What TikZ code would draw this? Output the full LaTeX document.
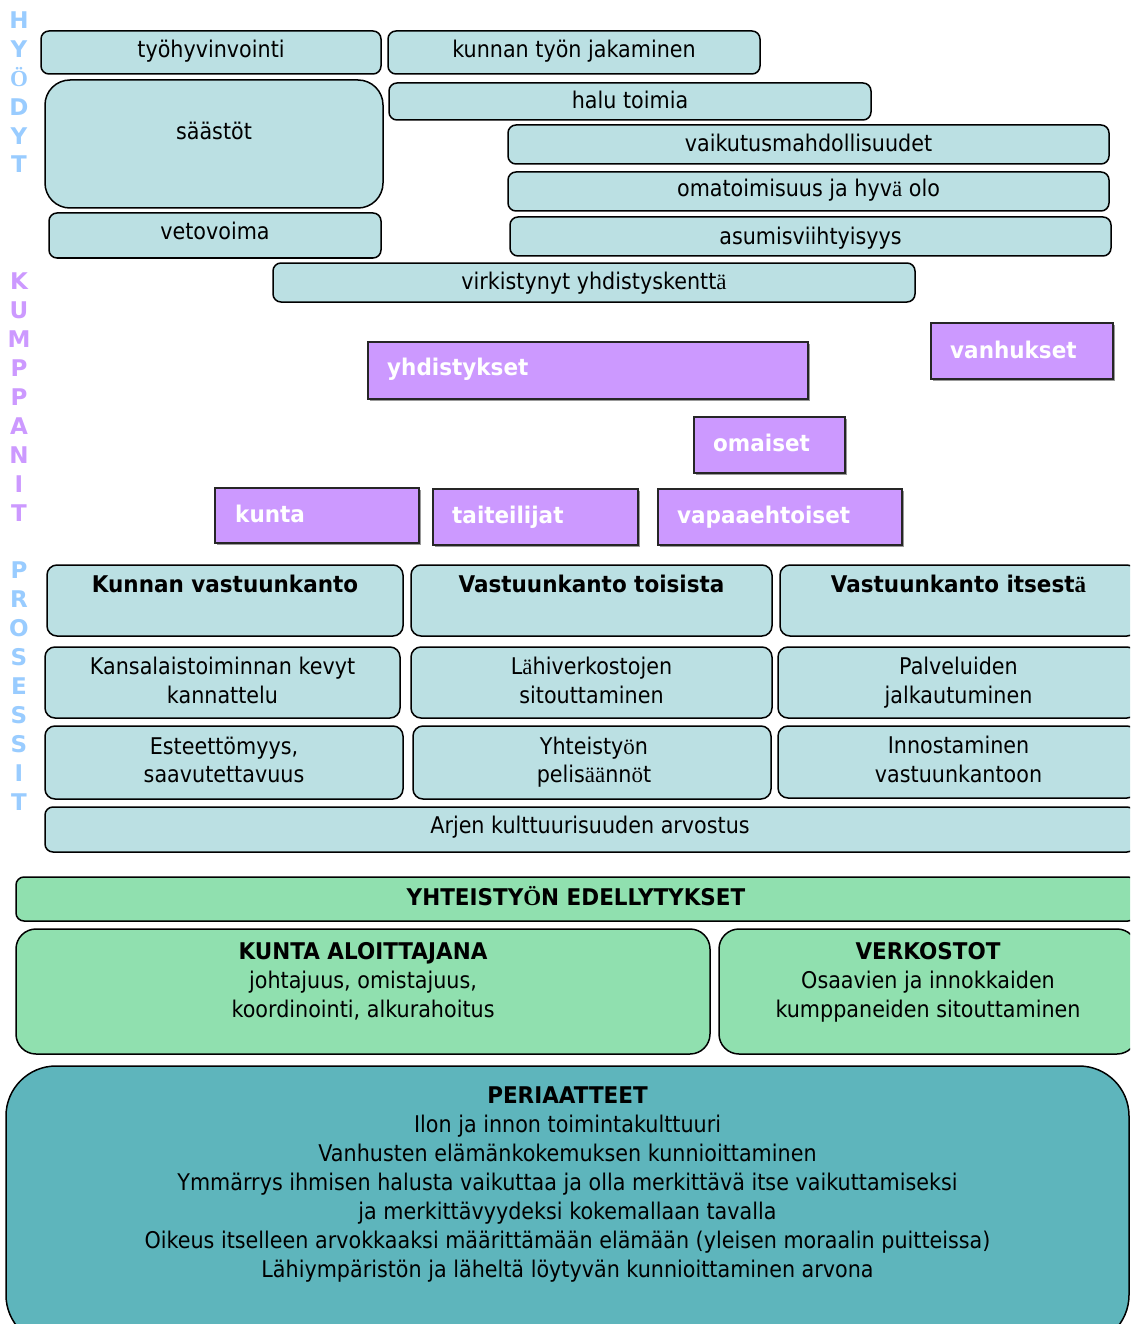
\documentclass[tikz,border=0pt]{standalone}
\usepackage{fontspec}
\setmainfont[UprightFeatures={FakeStretch=0.9},BoldFeatures={FakeStretch=0.935}]{DejaVu Sans}
\newfontfamily\fb{Liberation Serif}
\newfontfamily\sidefont{DejaVu Sans}
\usetikzlibrary{fit,shadows}

\definecolor{lblue}{RGB}{187,224,227}
\definecolor{purp}{RGB}{204,153,255}
\definecolor{sideblue}{RGB}{153,204,255}
\definecolor{lgreen}{RGB}{144,224,175}
\definecolor{teal}{RGB}{94,181,188}

\tikzset{
  x=1pt, y=-1pt,
  boxbase/.style={draw=black, line width=1.5pt, inner sep=0pt, outer sep=0pt},
  bbox/.style={boxbase, fill=lblue, rounded corners=8pt},
  gbox/.style={boxbase, fill=lgreen, rounded corners=8pt},
  pbox/.style={draw=black!85, line width=1.2pt, fill=purp, inner sep=0pt,
    general shadow={fill=black!40, shadow xshift=1.6pt, shadow yshift=-1.6pt}},
  txt/.style={inner sep=0pt, anchor=base, font=\fontsize{23}{29}\selectfont},
  btxt/.style={txt, font=\fontsize{23}{29}\selectfont\bfseries},
  ptxt/.style={inner sep=0pt, anchor=base west, text=white,
    font=\fontsize{23}{29}\selectfont\bfseries},
  side/.style={inner sep=0pt, anchor=base, font=\sidefont\fontsize{23}{29}\selectfont\bfseries},
}

\begin{document}
\begin{tikzpicture}
\useasboundingbox (0,0) rectangle (1130,1324);
\clip (0,0) rectangle (1130,1324);

% side headings
\foreach \l [count=\i] in {H,Y,{\fb Ö},D,Y,T}
  \node[side, text=sideblue] (hy\i) at (19,{29+28.8*(\i-1)}) {\l};
\foreach \l [count=\i] in {K,U,M,P,P,A,N,I,T}
  \node[side, text=purp] (ku\i) at (19,{289.3+29.05*(\i-1)}) {\l};
\foreach \l [count=\i] in {P,R,O,S,E,S,S,I,T}
  \node[side, text=sideblue] (pr\i) at (19,{578.3+29*(\i-1)}) {\l};

% benefits
\node[bbox, fit={(41,31) (381,74)}] (tyo) {};
\node[txt] (tyoT) at (211,58) {työhyvinvointi};
\node[bbox, fit={(388,31) (760,74)}] (jak) {};
\node[txt] (jakT) at (574,58) {kunnan työn jakaminen};
\node[bbox, rounded corners=25pt, fit={(45,80) (383,208)}] (saa) {};
\node[txt] (saaT) at (214,140) {säästöt};
\node[bbox, fit={(389,83) (871,120)}] (halu) {};
\node[txt] (haluT) at (630,109) {halu toimia};
\node[bbox, fit={(508,125) (1109,164)}] (vaik) {};
\node[txt] (vaikT) at (808.5,152) {vaikutusmahdollisuudet};
\node[bbox, fit={(508,172) (1109,211)}] (omat) {};
\node[txt] (omatT) at (808.5,197) {omatoimisuus ja hyv{\fb ä} olo};
\node[bbox, fit={(49,213) (381,258)}] (veto) {};
\node[txt] (vetoT) at (215,240) {vetovoima};
\node[bbox, fit={(510,217) (1111,256)}] (asum) {};
\node[txt] (asumT) at (810.5,244) {asumisviihtyisyys};
\node[bbox, fit={(273,263) (915,302)}] (virk) {};
\node[txt] (virkT) at (594,289) {virkistynyt yhdistyskentt{\fb ä}};

% partners
\node[pbox, fit={(368,342) (808,399)}] (yhd) {};
\node[ptxt] (yhdT) at (387,375) {yhdistykset};
\node[pbox, fit={(931,323) (1113,379)}] (vanh) {};
\node[ptxt] (vanhT) at (950,358) {vanhukset};
\node[pbox, fit={(694,417) (845,473)}] (omai) {};
\node[ptxt] (omaiT) at (713,451) {omaiset};
\node[pbox, fit={(215,488) (419,543)}] (kunta) {};
\node[ptxt] (kuntaT) at (235,522) {kunta};
\node[pbox, fit={(433,489) (638,545)}] (tait) {};
\node[ptxt] (taitT) at (452,523) {taiteilijat};
\node[pbox, fit={(658,489) (902,545)}] (vapa) {};
\node[ptxt] (vapaT) at (677,523) {vapaaehtoiset};

% processes
\node[bbox, rounded corners=10pt, fit={(47,565) (403,636)}] (kv) {};
\node[btxt] (kvT) at (225,592) {Kunnan vastuunkanto};
\node[bbox, rounded corners=10pt, fit={(411,565) (772,636)}] (vt) {};
\node[btxt] (vtT) at (591.5,592) {Vastuunkanto toisista};
\node[bbox, rounded corners=10pt, fit={(780,565) (1137,636)}] (vi) {};
\node[btxt] (viT) at (958.5,592) {Vastuunkanto itsest{\fb ä}};

\node[bbox, rounded corners=10pt, fit={(45,647) (400,718)}] (kk) {};
\node[txt] (kk1) at (222.5,674) {Kansalaistoiminnan kevyt};
\node[txt] (kk2) at (222.5,703) {kannattelu};
\node[bbox, rounded corners=10pt, fit={(411,647) (772,718)}] (lv) {};
\node[txt] (lv1) at (591.5,674) {L{\fb ä}hiverkostojen};
\node[txt] (lv2) at (591.5,703) {sitouttaminen};
\node[bbox, rounded corners=10pt, fit={(778,647) (1137,718)}] (pj) {};
\node[txt] (pj1) at (958.5,674) {Palveluiden};
\node[txt] (pj2) at (958.5,703) {jalkautuminen};

\node[bbox, rounded corners=10pt, fit={(45,726) (403,799)}] (es) {};
\node[txt] (es1) at (224,754) {Esteettömyys,};
\node[txt] (es2) at (224,782) {saavutettavuus};
\node[bbox, rounded corners=10pt, fit={(413,726) (771,799)}] (yp) {};
\node[txt] (yp1) at (594,754) {Yhteisty{\fb ö}n};
\node[txt] (yp2) at (594,782) {pelis{\fb ää}nn{\fb ö}t};
\node[bbox, rounded corners=10pt, fit={(778,726) (1137,798)}] (iv) {};
\node[txt] (iv1) at (958.5,753) {Innostaminen};
\node[txt] (iv2) at (958.5,782) {vastuunkantoon};

\node[bbox, fit={(45,807) (1135,852)}] (ak) {};
\node[txt] (akT) at (590,833) {Arjen kulttuurisuuden arvostus};

% preconditions
\node[gbox, fit={(16,877) (1136,921)}] (ye) {};
\node[btxt] (yeT) at (576,905) {YHTEISTY{\fb Ö}N EDELLYTYKSET};
\node[gbox, rounded corners=20pt, fit={(16,929) (710,1054)}] (ka) {};
\node[btxt] (ka1) at (363,959) {KUNTA ALOITTAJANA};
\node[txt] (ka2) at (363,988) {johtajuus, omistajuus,};
\node[txt] (ka3) at (363,1017) {koordinointi, alkurahoitus};
\node[gbox, rounded corners=20pt, fit={(719,929) (1137,1054)}] (ve) {};
\node[btxt] (ve1) at (928,959) {VERKOSTOT};
\node[txt] (ve2) at (928,988) {Osaavien ja innokkaiden};
\node[txt] (ve3) at (928,1017) {kumppaneiden sitouttaminen};

% principles
\node[boxbase, fill=teal, rounded corners=50pt, fit={(6,1066) (1129,1345)}] (per) {};
\node[btxt] (per0) at (567.5,1103) {PERIAATTEET};
\node[txt] (per1) at (567.5,1132) {Ilon ja innon toimintakulttuuri};
\node[txt] (per2) at (567.5,1161) {Vanhusten elämänkokemuksen kunnioittaminen};
\node[txt] (per3) at (567.5,1190) {Ymmärrys ihmisen halusta vaikuttaa ja olla merkittävä itse vaikuttamiseksi};
\node[txt] (per4) at (567.5,1219) {ja merkittävyydeksi kokemallaan tavalla};
\node[txt] (per5) at (567.5,1248) {Oikeus itselleen arvokkaaksi määrittämään elämään (yleisen moraalin puitteissa)};
\node[txt] (per6) at (567.5,1277) {Lähiympäristön ja läheltä löytyvän kunnioittaminen arvona};
\end{tikzpicture}
\end{document}
